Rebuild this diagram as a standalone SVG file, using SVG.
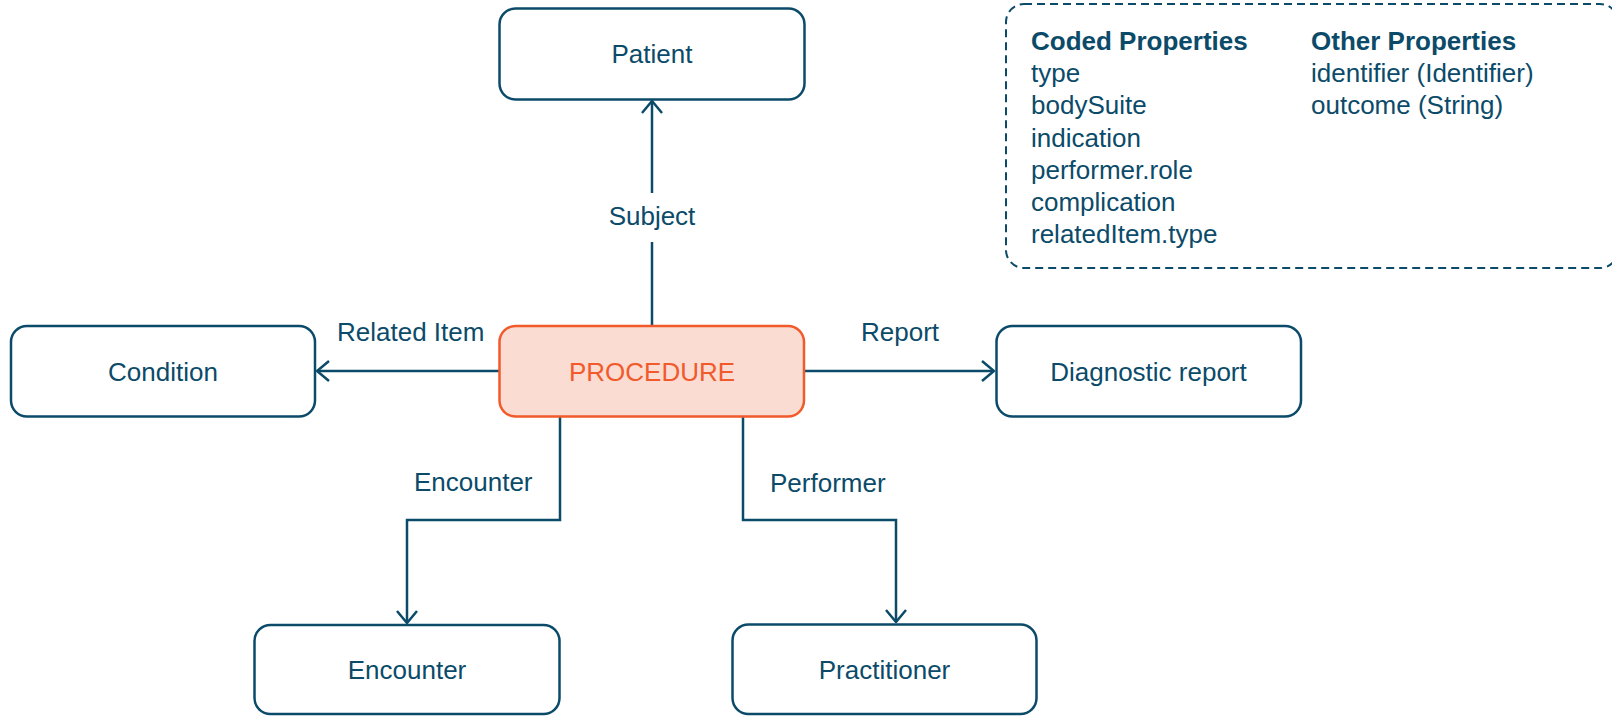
<svg xmlns="http://www.w3.org/2000/svg" width="1612" height="716" viewBox="0 0 1612 716">
<defs>
<style>
.box{fill:#ffffff;stroke:#0b4b69;stroke-width:2.5}
.main{fill:#fbdcd3;stroke:#f15a2b;stroke-width:2.5}
.t{font-family:"Liberation Sans",Arial,sans-serif;font-size:26px;fill:#0b4b69}
.c{text-anchor:middle}
.b{font-weight:bold}
.o{fill:#f15a2b}
.ln{fill:none;stroke:#0b4b69;stroke-width:2.5}
.dash{fill:none;stroke:#0b4b69;stroke-width:2;stroke-dasharray:8 5}
</style>
<marker id="arr" viewBox="0 0 14 22" refX="13" refY="11" markerWidth="14" markerHeight="22" markerUnits="userSpaceOnUse" orient="auto">
<path d="M1,1 L13,11 L1,21" fill="none" stroke="#0b4b69" stroke-width="2.5"/>
</marker>
</defs>

<g id="connectors">
<line class="ln" x1="652" y1="193" x2="652" y2="101" marker-end="url(#arr)"/>
<line class="ln" x1="652" y1="242" x2="652" y2="326"/>
<line class="ln" x1="499.5" y1="371" x2="317" y2="371" marker-end="url(#arr)"/>
<line class="ln" x1="804" y1="371" x2="994" y2="371" marker-end="url(#arr)"/>
<polyline class="ln" points="560,416 560,520 407,520 407,623" marker-end="url(#arr)"/>
<polyline class="ln" points="743,416 743,520 896,520 896,622" marker-end="url(#arr)"/>
<text class="t c" x="652" y="225">Subject</text>
<text class="t" x="337" y="341">Related Item</text>
<text class="t" x="861" y="341">Report</text>
<text class="t" x="414" y="491">Encounter</text>
<text class="t" x="770" y="492">Performer</text>
</g>

<g id="patient">
<rect class="box" x="499.5" y="8.5" width="305" height="91" rx="16"/>
<text class="t c" x="652" y="63">Patient</text>
</g>

<g id="procedure">
<rect class="main" x="499.5" y="326" width="304.5" height="90.5" rx="16"/>
<text class="t c o" x="652" y="380.5">PROCEDURE</text>
</g>

<g id="condition">
<rect class="box" x="11" y="326" width="304" height="90.5" rx="16"/>
<text class="t c" x="163" y="380.5">Condition</text>
</g>

<g id="diagnostic-report">
<rect class="box" x="996.5" y="326" width="304.5" height="90.5" rx="16"/>
<text class="t c" x="1148.5" y="380.5">Diagnostic report</text>
</g>

<g id="encounter">
<rect class="box" x="254.5" y="625" width="305" height="89" rx="16"/>
<text class="t c" x="407" y="679">Encounter</text>
</g>

<g id="practitioner">
<rect class="box" x="732.5" y="624.5" width="304" height="89.5" rx="16"/>
<text class="t c" x="884.5" y="678.5">Practitioner</text>
</g>

<g id="properties">
<rect class="dash" x="1006" y="4" width="612" height="264" rx="18"/>
<text class="t b" x="1031" y="50">Coded Properties</text>
<text class="t" x="1031" y="82">type</text>
<text class="t" x="1031" y="114">bodySuite</text>
<text class="t" x="1031" y="146.5">indication</text>
<text class="t" x="1031" y="178.5">performer.role</text>
<text class="t" x="1031" y="210.5">complication</text>
<text class="t" x="1031" y="242.5">relatedItem.type</text>
<text class="t b" x="1311" y="50">Other Properties</text>
<text class="t" x="1311" y="82">identifier (Identifier)</text>
<text class="t" x="1311" y="114">outcome (String)</text>
</g>
</svg>
